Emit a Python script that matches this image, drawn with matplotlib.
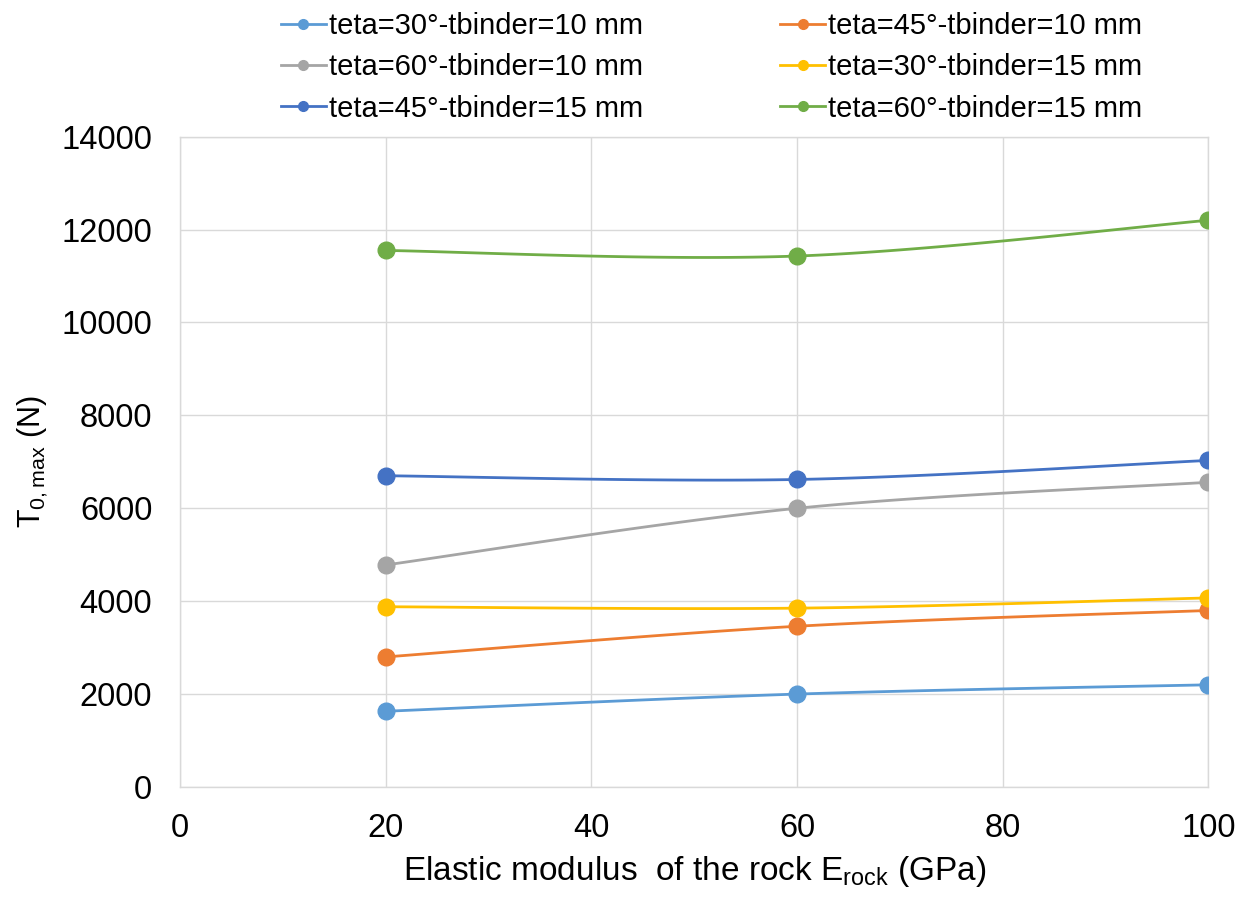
import numpy as np
import matplotlib
matplotlib.use("Agg")
import matplotlib.pyplot as plt

plt.rcParams['font.family'] = ['Liberation Sans', 'DejaVu Sans']

x_vals = [20, 60, 100]
labels = ["teta=30°-tbinder=10 mm", "teta=45°-tbinder=10 mm",
          "teta=60°-tbinder=10 mm", "teta=30°-tbinder=15 mm",
          "teta=45°-tbinder=15 mm", "teta=60°-tbinder=15 mm"]
s30_10 = [1630, 2000, 2200]
s45_10 = [2800, 3460, 3800]
s60_10 = [4780, 6000, 6560]
s30_15 = [3880, 3850, 4070]
s45_15 = [6700, 6620, 7030]
s60_15 = [11550, 11430, 12200]
series = [s30_10, s45_10, s60_10, s30_15, s45_15, s60_15]
colors = ["#5B9BD5", "#ED7D31", "#A5A5A5", "#FFC000", "#4472C4", "#70AD47"]


def smooth(xs, ys, n=40):
    xs = np.asarray(xs, float); ys = np.asarray(ys, float)
    P = np.column_stack([xs, ys])
    out = []
    for i in range(len(P) - 1):
        p0 = P[i - 1] if i > 0 else P[i]
        p1 = P[i]; p2 = P[i + 1]
        p3 = P[i + 2] if i + 2 < len(P) else P[i + 1]
        c1 = p1 + (p2 - p0) / 6.0
        c2 = p2 - (p3 - p1) / 6.0
        t = np.linspace(0, 1, n)[:, None]
        seg = ((1 - t) ** 3) * p1 + 3 * ((1 - t) ** 2) * t * c1 + 3 * (1 - t) * t ** 2 * c2 + t ** 3 * p2
        out.append(seg if i == 0 else seg[1:])
    out = np.vstack(out)
    return out[:, 0], out[:, 1]


fig = plt.figure(figsize=(12.51, 8.99), dpi=100)
ax = fig.add_axes([0.144, 0.1246, 0.822, 0.7234])

handles = []
for ys, c, lab in zip(series, colors, labels):
    sx, sy = smooth(x_vals, ys)
    ax.plot(sx, sy, color=c, lw=2.0, zorder=3)
    ax.plot(x_vals, ys, 'o', color=c, ms=12, zorder=4)
    h, = ax.plot([], [], color=c, lw=2.0, marker='o', ms=7, label=lab)
    handles.append(h)

ax.set_xlim(0, 100)
ax.set_ylim(0, 14000)
ax.set_xticks(np.arange(0, 101, 20))
ax.set_yticks(np.arange(0, 14001, 2000))
ax.grid(True, color="#D9D9D9", lw=1)
ax.set_axisbelow(True)
for sp in ax.spines.values():
    sp.set_color("#D9D9D9")
    sp.set_linewidth(1)
ax.tick_params(length=0, labelsize=23.5, colors="#000000")
ax.tick_params(axis='y', pad=20)
ax.tick_params(axis='x', pad=19)
ax.set_xlabel(r"Elastic modulus  of the rock E$_{\mathregular{rock}}$ (GPa)", fontsize=24, labelpad=7)
ax.set_ylabel(r"T$_{\mathregular{0,max}}$ (N)", fontsize=22, labelpad=8)

# row-wise legend ordering (as in the reference)
order = [0, 2, 4, 1, 3, 5]
fig.legend(handles=[handles[i] for i in order], loc='upper left',
           bbox_to_anchor=(272 / 1251, 0.996), ncol=2, borderpad=0.3, borderaxespad=0,
           frameon=False, fontsize=21, handlelength=1.55, handletextpad=0.1,
           columnspacing=4.7, labelspacing=0.45)

fig.savefig("out.png", dpi=100)
